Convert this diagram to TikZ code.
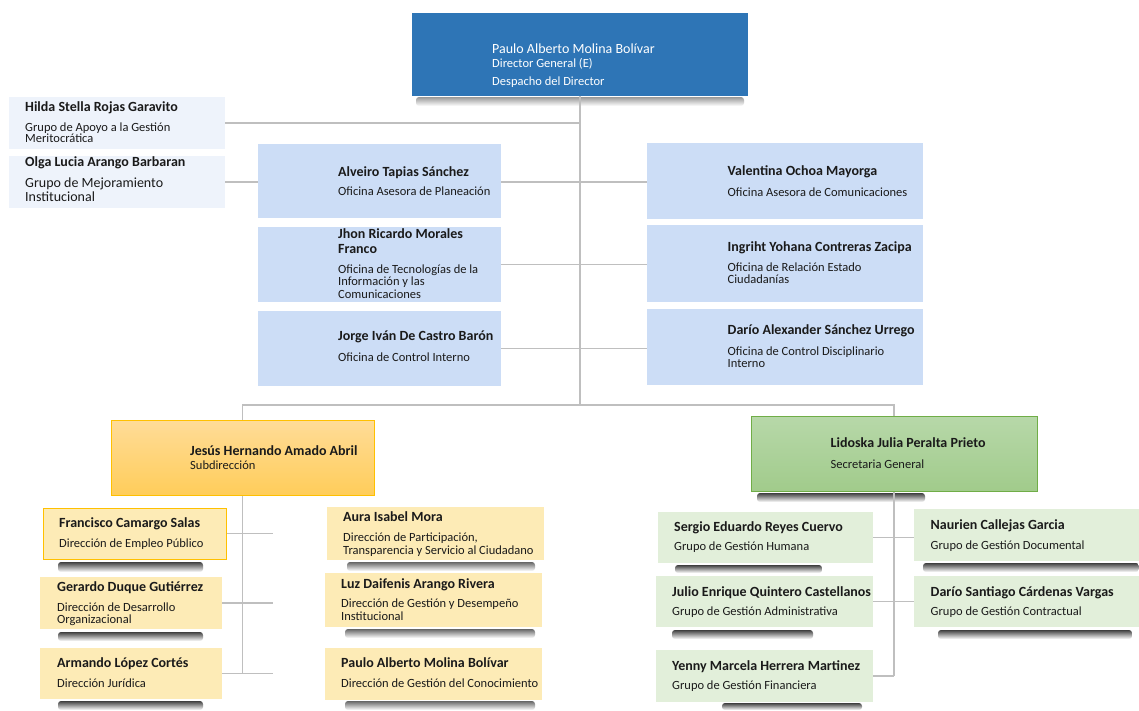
\documentclass[tikz,border=0pt]{standalone}
\usepackage{fontspec}
\setmainfont{Carlito}
\definecolor{dirblue}{HTML}{2E75B6}
\definecolor{paleblue}{HTML}{CCDDF6}
\definecolor{palest}{HTML}{EEF3FB}
\definecolor{gold}{HTML}{FFC000}
\definecolor{orgtop}{HTML}{FFDC98}
\definecolor{orgbot}{HTML}{FFCD5A}
\definecolor{yel}{HTML}{FDEBB6}
\definecolor{grtop}{HTML}{B7D8A9}
\definecolor{grbot}{HTML}{A1CB8B}
\definecolor{grline}{HTML}{70AD47}
\definecolor{lgreen}{HTML}{E2EFDA}
\definecolor{lnc}{HTML}{BFBFBF}
\definecolor{txt}{HTML}{1A1A1A}
\pgfdeclarelayer{bg}
\pgfsetlayers{bg,main}
\newcommand\bx[6][]{\node[box,#1,minimum width=#5pt-#3pt,minimum height=#6pt-#4pt] (#2) at (#3,#4) {};}
\newcommand\tn[5][]{\node[nmst,#1] (#2) at (#3,#4) {#5};}
\newcommand\ts[5][]{\node[sbst,#1] (#2) at (#3,#4) {#5};}
\newcommand\sh[5][75]{%
  \shade[top color=black!#1, bottom color=white, rounded corners=3pt] (#2,#3) rectangle (#4,#5);}
\begin{document}
\begin{tikzpicture}[x=1pt,y=-1pt,
  box/.style={inner sep=0pt, outer sep=0pt, anchor=north west},
  nmst/.style={inner sep=0pt, anchor=base west, align=left, text=txt, font=\fontsize{14}{15}\selectfont\bfseries},
  sbst/.style={inner sep=0pt, anchor=base west, align=left, text=txt, font=\fontsize{12.5}{12.5}\selectfont},
  conn/.style={draw=lnc, line width=1.3pt},
  bluebox/.style={fill=paleblue},
  yelbox/.style={fill=yel},
  grnbox/.style={fill=lgreen}]
\useasboundingbox (0,0) rectangle (1139,710);

% ---- Director
\bx[fill=dirblue]{dir}{412}{13}{748}{96}
\tn[text=white, font=\fontsize{14}{15}\selectfont]{dirn}{492}{53}{Paulo Alberto Molina Bolívar}
\ts[text=white]{dirs1}{492}{67}{Director General (E)}
\ts[text=white]{dirs2}{492}{85}{Despacho del Director}

% ---- Left groups
\bx[fill=palest]{hilda}{9}{97}{225}{149}
\tn{hildan}{25}{111}{Hilda Stella Rojas Garavito}
\ts[font=\fontsize{12.5}{11}\selectfont]{hildas}{25}{142.5}{Grupo de Apoyo a la Gestión\\Meritocrática}
\bx[fill=palest]{olga}{9}{156}{225}{208}
\tn{olgan}{25}{166}{Olga Lucia Arango Barbaran}
\ts[font=\fontsize{14}{14}\selectfont]{olgas}{25}{201.5}{Grupo de Mejoramiento\\Institucional}

% ---- Middle left
\bx[bluebox]{alv}{258}{144}{501}{218}
\tn{alvn}{338}{176.5}{Alveiro Tapias Sánchez}
\ts{alvs}{338}{195.5}{Oficina Asesora de Planeación}
\bx[bluebox]{jhon}{258}{227}{501}{302}
\tn{jhonn}{338}{253}{Jhon Ricardo Morales\\Franco}
\ts{jhons}{338}{298}{Oficina de Tecnologías de la\\Información y las\\Comunicaciones}
\bx[bluebox]{jorge}{258}{311}{501}{386}
\tn{jorgen}{338}{340}{Jorge Iván De Castro Barón}
\ts{jorges}{338}{361.5}{Oficina de Control Interno}

% ---- Middle right
\bx[bluebox]{val}{647}{143}{923}{219}
\tn{valn}{727.5}{175.5}{Valentina Ochoa Mayorga}
\ts{vals}{727.5}{196}{Oficina Asesora de Comunicaciones}
\bx[bluebox]{ing}{647}{225}{923}{302}
\tn{ingn}{727.5}{251.5}{Ingriht Yohana Contreras Zacipa}
\ts{ings}{727.5}{283.5}{Oficina de Relación Estado\\Ciudadanías}
\bx[bluebox]{dara}{647}{309}{923}{385}
\tn{daran}{727.5}{334.5}{Darío Alexander Sánchez Urrego}
\ts{daras}{727.5}{367.5}{Oficina de Control Disciplinario\\Interno}

% ---- Subdireccion
\bx[top color=orgtop, bottom color=orgbot, draw=gold, line width=0.8pt]{jes}{111}{420}{374}{495}
\tn{jesn}{190}{455.5}{Jesús Hernando Amado Abril}
\ts{jess}{190}{469}{Subdirección}

\bx[yelbox, draw=gold, line width=0.8pt]{fra}{43}{508}{226}{559}
\tn{fran}{59}{527.5}{Francisco Camargo Salas}
\ts{fras}{59}{547.5}{Dirección de Empleo Público}
\bx[yelbox]{ger}{40}{577}{222}{629}
\tn{gern}{57}{591.5}{Gerardo Duque Gutiérrez}
\ts{gers}{57}{623.5}{Dirección de Desarrollo\\Organizacional}
\bx[yelbox]{arm}{40}{648}{222}{699}
\tn{armn}{57}{667.5}{Armando López Cortés}
\ts{arms}{57}{687.5}{Dirección Jurídica}
\bx[yelbox]{aura}{327}{507}{544}{560}
\tn{auran}{343}{521.5}{Aura Isabel Mora}
\ts{auras}{343}{554}{Dirección de Participación,\\Transparencia y Servicio al Ciudadano}
\bx[yelbox]{luz}{325}{573}{542}{627}
\tn{luzn}{341}{588}{Luz Daifenis Arango Rivera}
\ts{luzs}{341}{620}{Dirección de Gestión y Desempeño\\Institucional}
\bx[yelbox]{pau}{325}{648}{542}{700}
\tn{paun}{341}{667.5}{Paulo Alberto Molina Bolívar}
\ts{paus}{341}{687.5}{Dirección de Gestión del Conocimiento}

% ---- Secretaria General
\bx[top color=grtop, bottom color=grbot, draw=grline, line width=0.8pt]{lid}{751}{416}{1037}{491.5}
\tn{lidn}{830.5}{447.5}{Lidoska Julia Peralta Prieto}
\ts{lids}{830.5}{468}{Secretaria General}

\bx[grnbox]{ser}{658}{512}{873}{563}
\tn{sern}{674}{531.5}{Sergio Eduardo Reyes Cuervo}
\ts{sers}{674}{550.5}{Grupo de Gestión Humana}
\bx[grnbox]{jul}{656}{576}{873}{627}
\tn{juln}{672}{596.5}{Julio Enrique Quintero Castellanos}
\ts{juls}{672}{615}{Grupo de Gestión Administrativa}
\bx[grnbox]{yen}{656}{650}{873}{702}
\tn{yenn}{672}{670}{Yenny Marcela Herrera Martinez}
\ts{yens}{672}{689}{Grupo de Gestión Financiera}
\bx[grnbox]{nau}{914}{509}{1139}{561}
\tn{naun}{930.5}{529.5}{Naurien Callejas Garcia}
\ts{naus}{930.5}{549}{Grupo de Gestión Documental}
\bx[grnbox]{das}{914}{576}{1139}{627}
\tn{dasn}{930.5}{596.5}{Darío Santiago Cárdenas Vargas}
\ts{dass}{930.5}{615}{Grupo de Gestión Contractual}

% ---- coordinates for free ends
\coordinate (hbar) at (580,405);
\coordinate (jend) at (273,600);

\begin{pgfonlayer}{bg}
  \fill[white] (0,0) rectangle (1139,710);
  % shadows
  \sh[40]{416}{97}{744}{106}
  \sh{757}{493}{925}{502}
  \sh{58}{562}{203}{572}
  \sh{58}{632}{203}{641}
  \sh{58}{701}{203}{710}
  \sh[60]{347}{562}{535}{571}
  \sh[60]{345}{629}{535}{638}
  \sh[60]{345}{701}{535}{710}
  \sh{675}{565}{822}{573}
  \sh{672}{630}{813}{639}
  \sh{722}{703}{862}{710}
  \sh{923}{563}{1139}{572}
  \sh{938}{630}{1132}{639}
  % connectors
  \draw[conn] (dir.south) -- (hbar);
  \draw[conn] (hilda.east) -- (hilda.east -| dir.south);
  \draw[conn] (olga.east) -- (olga.east -| val.west);
  \draw[conn] (jhon.east) -- (jhon.east -| ing.west);
  \draw[conn] (jorge.east) -- (jorge.east -| dara.west);
  \draw[conn] (jes.north) |- (hbar) -| (lid.north);
  \draw[conn] (jes.south) -- (jes.south |- arm.east);
  \draw[conn] (fra.east) -- (fra.east -| jend);
  \draw[conn] (ger.east) -- (ger.east -| jend);
  \draw[conn] (arm.east) -- (arm.east -| jend);
  \draw[conn] (lid.south) -- (lid.south |- yen.east);
  \draw[conn] (ser.east) -- (ser.east -| nau.west);
  \draw[conn] (jul.east) -- (jul.east -| das.west);
  \draw[conn] (yen.east) -- (yen.east -| lid.south);
\end{pgfonlayer}
\end{tikzpicture}
\end{document}
